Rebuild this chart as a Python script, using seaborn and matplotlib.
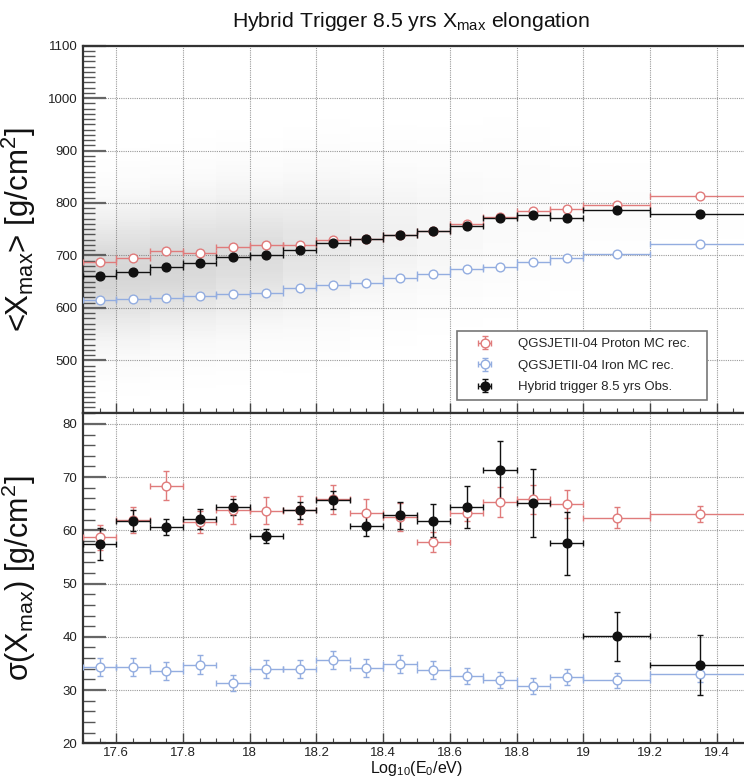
import numpy as np
import matplotlib
matplotlib.use("Agg")
import matplotlib.pyplot as plt
from matplotlib.colors import LinearSegmentedColormap
from matplotlib.ticker import MultipleLocator, FuncFormatter
import seaborn as sns

# Energy binning: log10(E/eV)
bin_edges = [17.5, 17.6, 17.7, 17.8, 17.9, 18.0, 18.1, 18.2, 18.3, 18.4,
             18.5, 18.6, 18.7, 18.8, 18.9, 19.0, 19.2, 19.5]

# <Xmax> [g/cm^2]
xmax_proton = [688, 696, 709, 705, 717, 720, 720, 730, 731, 739,
               746, 759, 773, 784, 788, 797, 814]
xmax_iron = [615, 617, 619, 622, 626, 628, 638, 643, 647, 657,
             664, 674, 677, 687, 695, 703, 722]
xmax_obs = [661, 668, 677, 685, 697, 701, 710, 724, 731, 738,
            746, 757, 772, 777, 771, 786, 779]
xmax_proton_err = [2, 2, 2, 2, 2, 2, 2, 2, 2, 2, 2, 2, 2, 2, 2, 2, 2]
xmax_iron_err = [2, 2, 2, 2, 2, 2, 2, 2, 2, 2, 2, 2, 2, 2, 2, 2, 2]
xmax_obs_err = [2, 2, 2, 2, 2, 2, 2, 2, 2, 2, 3, 3, 4, 5, 6, 5, 6]

# sigma(Xmax) [g/cm^2]
sigma_proton = [58.7, 61.9, 68.4, 61.6, 63.8, 63.7, 63.8, 65.8, 63.3, 62.5,
                57.8, 63.3, 65.3, 65.8, 65.0, 62.4, 63.0]
sigma_proton_err = [2.3, 2.4, 2.7, 2.1, 2.7, 2.6, 2.7, 2.7, 2.6, 2.7,
                    1.9, 1.6, 2.8, 2.8, 2.6, 1.9, 1.5]
sigma_iron = [34.3, 34.3, 33.6, 34.8, 31.3, 34.0, 33.9, 35.7, 34.1, 34.9,
              33.8, 32.6, 31.9, 30.8, 32.5, 31.8, 33.0]
sigma_iron_err = [1.7, 1.7, 1.7, 1.7, 1.5, 1.7, 1.7, 1.7, 1.7, 1.7,
                  1.7, 1.5, 1.5, 1.5, 1.5, 1.4, 1.5]
sigma_obs = [57.4, 61.8, 60.6, 62.1, 64.4, 58.9, 63.8, 65.7, 60.9, 62.8,
             61.8, 64.4, 71.3, 65.1, 57.6, 40.1, 34.7]
sigma_obs_err = [3.0, 2.0, 1.5, 1.9, 1.5, 1.3, 1.6, 1.7, 1.9, 2.6,
                 3.1, 3.9, 5.4, 6.4, 5.9, 4.6, 5.6]

# Approximate number of observed events in each energy bin
events_per_bin = [1100, 1100, 1100, 1050, 1000, 900, 780, 640, 500, 380,
                  280, 200, 140, 100, 70, 80, 40]

labels = ["QGSJETII-04 Proton MC rec.",
          "QGSJETII-04 Iron MC rec.",
          "Hybrid trigger 8.5 yrs Obs."]

RED = "#e07b7b"
BLUE = "#93ade0"
BLACK = "#111111"

sns.set_theme(style="white")
plt.rcParams["font.family"] = ["Liberation Sans", "DejaVu Sans"]
plt.rcParams["mathtext.fontset"] = "custom"
plt.rcParams["mathtext.rm"] = "Liberation Sans"
plt.rcParams["mathtext.it"] = "Liberation Sans:italic"

edges = np.array(bin_edges)
centers = 0.5 * (edges[:-1] + edges[1:])
halfw = 0.5 * np.diff(edges)

W, H = 744, 778
fig = plt.figure(figsize=(W / 100, H / 100), dpi=100)
fig.patch.set_facecolor("white")

left = 83 / W
width = (750 - 83) / W
ax1 = fig.add_axes([left, (H - 412.7) / H, width, (412.7 - 45.7) / H])
ax2 = fig.add_axes([left, (H - 743.3) / H, width, (743.3 - 412.7) / H])

# Event cloud behind the top panel, from the per-bin mean and spread
gx_edges = np.arange(17.5, 19.5001, 0.01)
gy_edges = np.arange(400, 1100.1, 4.0)
gxc = 0.5 * (gx_edges[:-1] + gx_edges[1:])
gyc = 0.5 * (gy_edges[:-1] + gy_edges[1:])
GX, GY = np.meshgrid(gxc, gyc, indexing="ij")
idx = np.clip(np.searchsorted(edges, GX, side="right") - 1, 0, len(centers) - 1)
mu = np.array(xmax_obs)[idx]
sg = np.array(sigma_obs)[idx] * 1.3
dens = (np.array(events_per_bin)[idx] / (2 * halfw[idx])) * \
    np.exp(-0.5 * ((GY - mu) / sg) ** 2) / sg
dens = dens / dens.max()
cloud_cmap = LinearSegmentedColormap.from_list(
    "cloud", [(0.3, 0.3, 0.3, 0.0), (0.3, 0.3, 0.3, 0.24)])
sns.histplot(x=GX.ravel(), y=GY.ravel(), weights=dens.ravel(),
             bins=[gx_edges, gy_edges], cmap=cloud_cmap, cbar=False,
             ax=ax1, zorder=0.6)


def draw_series(ax, y, yerr, color, filled, label):
    mfc = color if filled else "white"
    return ax.errorbar(centers, y, xerr=halfw, yerr=yerr, fmt="o",
                       color=color, ecolor=color, mfc=mfc, mec=color,
                       ms=6.3, mew=1.0, elinewidth=1.0, capsize=2.0,
                       capthick=1.0, label=label, zorder=3)


h1 = draw_series(ax1, xmax_proton, xmax_proton_err, RED, False, labels[0])
h2 = draw_series(ax1, xmax_iron, xmax_iron_err, BLUE, False, labels[1])
h3 = draw_series(ax1, xmax_obs, xmax_obs_err, BLACK, True, labels[2])

draw_series(ax2, sigma_proton, sigma_proton_err, RED, False, labels[0])
draw_series(ax2, sigma_iron, sigma_iron_err, BLUE, False, labels[1])
draw_series(ax2, sigma_obs, sigma_obs_err, BLACK, True, labels[2])

ax1.set_xlim(17.5, 19.5)
ax2.set_xlim(17.5, 19.5)
ax1.set_ylim(400, 1100)
ax2.set_ylim(20, 82.1)

ax1.yaxis.set_major_locator(MultipleLocator(100))
ax1.yaxis.set_minor_locator(MultipleLocator(10))
ax2.yaxis.set_major_locator(MultipleLocator(10))
ax2.yaxis.set_minor_locator(MultipleLocator(2))
for ax in (ax1, ax2):
    ax.xaxis.set_major_locator(MultipleLocator(0.2))
    ax.xaxis.set_minor_locator(MultipleLocator(0.05))
    ax.xaxis.set_major_formatter(FuncFormatter(lambda v, p: f"{v:.1f}".rstrip("0").rstrip(".")))
    ax.set_axisbelow(True)
    ax.grid(True, which="major", color="#9a9a9a", linestyle=(0, (1, 1)),
            linewidth=0.8)
    ax.tick_params(axis="y", which="major", direction="in", length=16.5,
                   width=1.6, color="#666666", labelsize=9.5, pad=4,
                   labelcolor="#222222", left=True, right=False)
    ax.tick_params(axis="y", which="minor", direction="in", length=8.5,
                   width=1.0, color="#555555", left=True, right=False)
    ax.tick_params(axis="x", which="major", direction="in", length=7,
                   width=1.0, color="#444444", labelsize=9.5, pad=2.5,
                   labelcolor="#222222", bottom=True, top=False)
    ax.tick_params(axis="x", which="minor", direction="in", length=3.6,
                   width=0.8, color="#444444", bottom=True, top=False)
    for side in ("left", "bottom", "top"):
        ax.spines[side].set_color("#333333")
        ax.spines[side].set_linewidth(1.6)
        ax.spines[side].set_visible(True)
    ax.spines["right"].set_visible(False)
    ax.set_facecolor("white")

ax1.set_yticks([500, 600, 700, 800, 900, 1000, 1100])
ax1.tick_params(axis="x", labelbottom=False)

ax1.set_ylabel("<X$_{\\mathrm{max}}$> [g/cm$^{2}$]", fontsize=22.5,
               color="#111111")
ax2.set_ylabel("σ(X$_{\\mathrm{max}}$) [g/cm$^{2}$]", fontsize=22,
               color="#111111")
ax1.yaxis.set_label_coords(-0.068, 0.5)
ax2.yaxis.set_label_coords(-0.068, 0.5)
ax2.set_xlabel("Log$_{\\mathrm{10}}$(E$_{\\mathrm{0}}$/eV)", fontsize=11.5,
               labelpad=0.5, color="#111111")

fig.text(0.553, 0.973, "Hybrid Trigger 8.5 yrs X$_{\\mathrm{max}}$ elongation",
         ha="center", va="center", fontsize=15.3, color="#111111")

leg = ax1.legend(handles=[h1, h2, h3], labels=labels, loc="lower left",
                 bbox_to_anchor=(0.561, 0.035, 0.375, 0.21), mode="expand",
                 fontsize=9.5, frameon=True, fancybox=False,
                 handlelength=3.2, handletextpad=0.9, borderpad=0.5,
                 labelspacing=0.7, borderaxespad=0)
leg.get_frame().set_edgecolor("#777777")
leg.get_frame().set_linewidth(1.2)
leg.get_frame().set_alpha(1.0)
leg.set_zorder(5)

fig.savefig("out.png", dpi=100, facecolor="white")
